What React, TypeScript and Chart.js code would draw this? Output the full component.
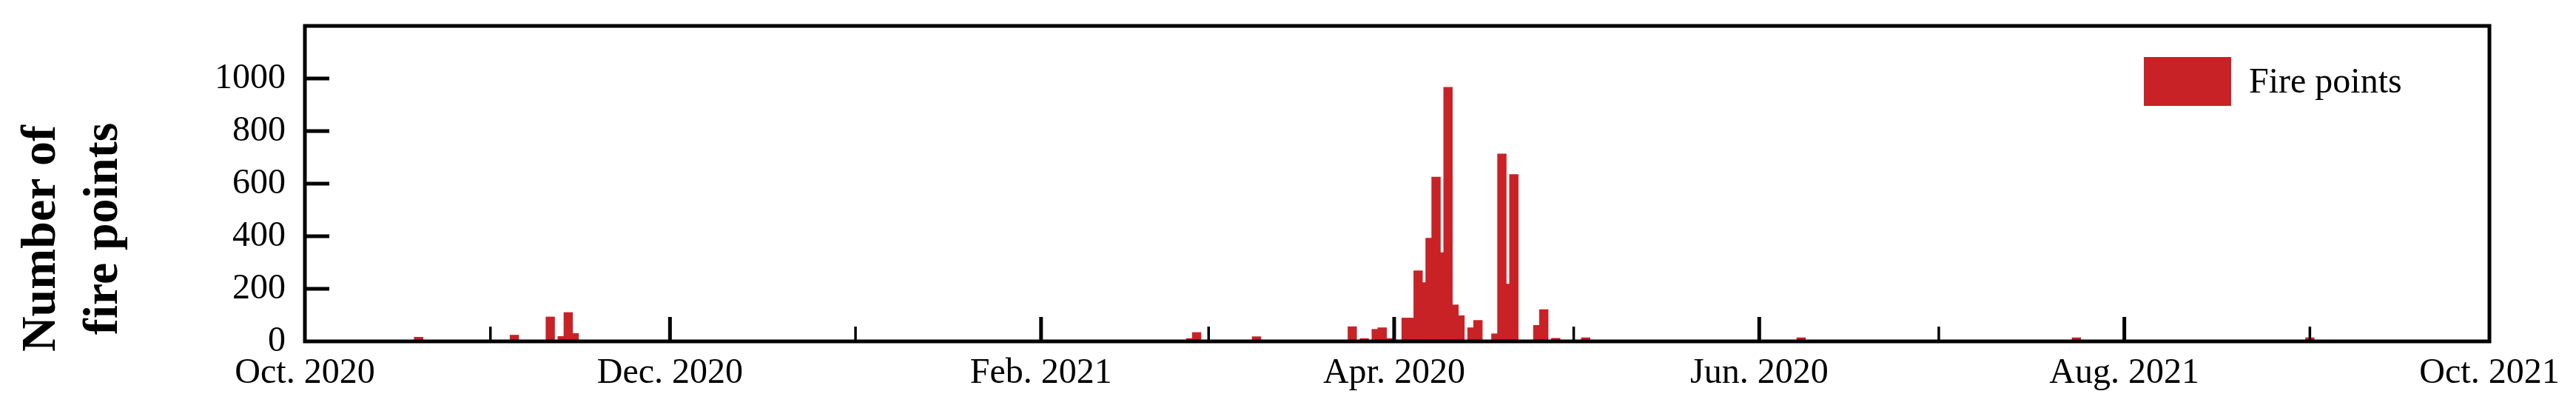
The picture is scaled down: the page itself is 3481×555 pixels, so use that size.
import React, { useEffect, useRef } from "react";
import { Chart, registerables } from "chart.js";

Chart.register(...registerables);

// ---- data ----
const startDate = "2020-10-01";
const endDate = "2021-10-01";

const fireDates = [
  "2020-10-20", "2020-11-05", "2020-11-11", "2020-11-13", "2020-11-14", "2020-11-15",
  "2021-02-26", "2021-02-27", "2021-03-09",
  "2021-03-25", "2021-03-27", "2021-03-29", "2021-03-30", "2021-03-31",
  "2021-04-03", "2021-04-04", "2021-04-05", "2021-04-06", "2021-04-07", "2021-04-08",
  "2021-04-09", "2021-04-10", "2021-04-11", "2021-04-12", "2021-04-14", "2021-04-15",
  "2021-04-18", "2021-04-19", "2021-04-20", "2021-04-21", "2021-04-25", "2021-04-26",
  "2021-04-28", "2021-05-03", "2021-06-08", "2021-07-24", "2021-09-01",
];
const fireCounts = [
  16, 24, 93, 19, 110, 30,
  11, 34, 18,
  56, 11, 46, 52, 11,
  89, 89, 269, 224, 393, 625,
  338, 967, 139, 98, 52, 80,
  29, 713, 218, 635, 61, 121,
  12, 14, 14, 14, 14,
];

const monthTickDates = [
  "2020-10-01", "2020-11-01", "2020-12-01", "2021-01-01", "2021-02-01", "2021-03-01",
  "2021-04-01", "2021-05-01", "2021-06-01", "2021-07-01", "2021-08-01", "2021-09-01",
  "2021-10-01",
];
const monthTickLabels = [
  "Oct. 2020", "", "Dec. 2020", "", "Feb. 2021", "", "Apr. 2020", "", "Jun. 2020", "",
  "Aug. 2021", "", "Oct. 2021",
];
const yTickValues = [0, 200, 400, 600, 800, 1000];
const yMax = 1200;
const seriesLabel = "Fire points";
const yTitleLines = ["Number of", "fire points"];

const barColor = "#C92226";
const FONT = '"Liberation Serif", "Times New Roman", serif';

function dayIndex(s: string): number {
  const [y, m, d] = s.split("-").map(Number);
  const [y0, m0, d0] = startDate.split("-").map(Number);
  return Math.round((Date.UTC(y, m - 1, d) - Date.UTC(y0, m0 - 1, d0)) / 86400000);
}

const decorPlugin = {
  id: "decor",
  afterDatasetsDraw(chart: any) {
    const { ctx, chartArea: a, scales } = chart;
    const x = scales.x;
    const y = scales.y;
    ctx.save();
    ctx.strokeStyle = "#000";
    ctx.lineCap = "butt";

    // inward x tick marks
    monthTickDates.forEach((d, i) => {
      const px = x.getPixelForValue(dayIndex(d));
      if (px <= a.left + 2 || px >= a.right - 2) return;
      const major = monthTickLabels[i] !== "";
      ctx.lineWidth = major ? 5 : 3.5;
      ctx.beginPath();
      ctx.moveTo(px, a.bottom);
      ctx.lineTo(px, a.bottom - (major ? 33 : 20));
      ctx.stroke();
    });

    // inward y tick marks
    ctx.lineWidth = 5;
    yTickValues.forEach((v) => {
      if (v === 0) return;
      const py = y.getPixelForValue(v);
      ctx.beginPath();
      ctx.moveTo(a.left, py);
      ctx.lineTo(a.left + 33, py);
      ctx.stroke();
    });

    // frame
    ctx.lineWidth = 5;
    ctx.strokeRect(a.left, a.top, a.right - a.left, a.bottom - a.top);

    // legend
    const ds = chart.data.datasets[0];
    const bx = a.right - 467;
    const by = a.top + 42;
    ctx.fillStyle = ds.backgroundColor;
    ctx.fillRect(bx, by, 118, 66);
    ctx.fillStyle = "#000";
    ctx.font = `48px ${FONT}`;
    ctx.textAlign = "left";
    ctx.textBaseline = "alphabetic";
    ctx.fillText(ds.label, bx + 142, by + 48);

    // y title (two lines, rotated)
    ctx.font = `bold 66px ${FONT}`;
    ctx.textAlign = "center";
    const cy = (a.top + a.bottom) / 2;
    ctx.save();
    ctx.translate(74, cy + 74);
    ctx.rotate(-Math.PI / 2);
    ctx.fillText(yTitleLines[0], 0, 0);
    ctx.restore();
    ctx.save();
    ctx.translate(158, cy + 61);
    ctx.rotate(-Math.PI / 2);
    ctx.fillText(yTitleLines[1], 0, 0);
    ctx.restore();

    ctx.restore();
  },
};

export default function App() {
  const ref = useRef<HTMLCanvasElement | null>(null);

  useEffect(() => {
    if (!ref.current) return;
    const data = fireDates.map((d, i) => ({ x: dayIndex(d), y: fireCounts[i] }));
    const chart = new Chart(ref.current, {
      type: "bar",
      data: {
        datasets: [
          {
            label: seriesLabel,
            data,
            backgroundColor: barColor,
            borderWidth: 0,
            barThickness: 11.8,
          } as any,
        ],
      },
      options: {
        animation: false,
        responsive: false,
        devicePixelRatio: 1,
        layout: { padding: { top: 35, right: 117, left: 0, bottom: 0 } },
        plugins: {
          legend: { display: false },
          tooltip: { enabled: false },
        },
        scales: {
          x: {
            type: "linear",
            offset: false,
            min: 0,
            max: dayIndex(endDate),
            afterBuildTicks: (s: any) => {
              s.ticks = monthTickDates.map((d) => ({ value: dayIndex(d) }));
            },
            afterFit: (s: any) => {
              s.height = 94;
              s.paddingLeft = 0;
              s.paddingRight = 0;
            },
            grid: { display: false, drawTicks: false, offset: false },
            border: { display: false },
            ticks: {
              autoSkip: false,
              maxRotation: 0,
              minRotation: 0,
              padding: 15,
              color: "#000",
              font: { family: FONT, size: 48 },
              callback: (_v: any, i: number) => monthTickLabels[i] ?? "",
            },
          },
          y: {
            min: 0,
            max: yMax,
            afterBuildTicks: (s: any) => {
              s.ticks = yTickValues.map((v) => ({ value: v }));
            },
            afterFit: (s: any) => {
              s.width = 412;
              s.paddingTop = 0;
              s.paddingBottom = 0;
            },
            grid: { display: false, drawTicks: false },
            border: { display: false },
            ticks: {
              padding: 26,
              color: "#000",
              font: { family: FONT, size: 48 },
              callback: (v: any) => String(v),
            },
          },
        } as any,
      },
      plugins: [decorPlugin],
    });
    return () => chart.destroy();
  }, []);

  return (
    <div style={{ position: "fixed", left: 0, top: 0, width: 3481, height: 555, background: "#fff" }}>
      <canvas ref={ref} width={3481} height={555} style={{ display: "block", width: 3481, height: 555 }} />
    </div>
  );
}
